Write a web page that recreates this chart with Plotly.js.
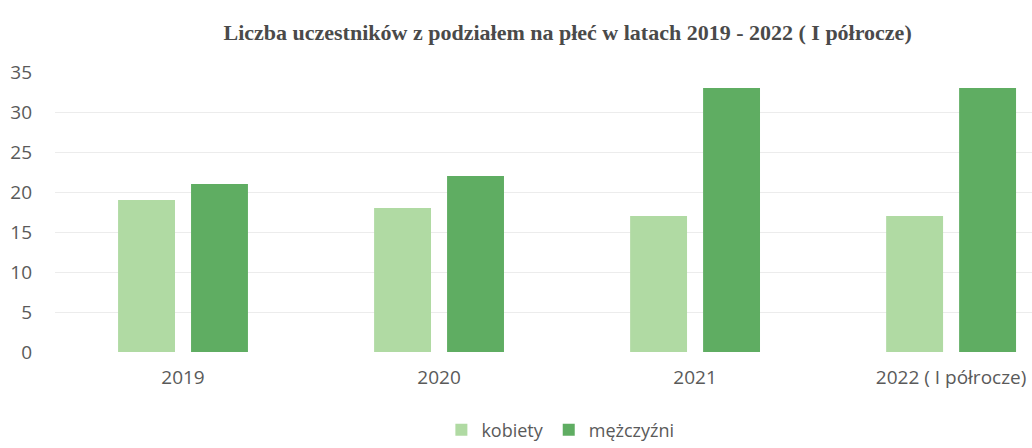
<!DOCTYPE html>
<html>
<head>
<meta charset="utf-8">
<script src="https://cdn.plot.ly/plotly-3.0.1.min.js"></script>
<style>html,body{margin:0;padding:0;background:#fff;}#chart{width:1032px;height:448px;}</style>
</head>
<body>
<div id="chart"></div>
<script>
const categories = ["2019", "2020", "2021", "2022 ( I półrocze)"];
const kobiety = [19, 18, 17, 17];
const mezczyzni = [21, 22, 33, 33];
const seriesNames = ["kobiety", "mężczyźni"];
const yTicks = [0, 5, 10, 15, 20, 25, 30, 35];
const titleText = "Liczba uczestników z podziałem na płeć w latach 2019 - 2022 ( I półrocze)";

const traces = [
  {type: "bar", name: seriesNames[0], x: categories, y: kobiety,
   marker: {color: "#b0daa3"}, hoverinfo: "x+y+name"},
  {type: "bar", name: seriesNames[1], x: categories, y: mezczyzni,
   marker: {color: "#5fad62"}, hoverinfo: "x+y+name"}
];

const labelFont = {family: "Open Sans, Liberation Sans, sans-serif", size: 19, color: "#5a5a5a"};

const layout = {
  width: 1032, height: 448,
  margin: {l: 55, r: 0, t: 72, b: 96},
  paper_bgcolor: "#fff", plot_bgcolor: "#fff",
  barmode: "group", bargap: 0.43, bargroupgap: 0.22,
  title: {text: titleText, x: 0.55, xanchor: "center", y: 0.928, yanchor: "middle",
          font: {family: "Liberation Serif, DejaVu Serif, serif", size: 22, color: "#4a4a4a", weight: "bold"}},
  xaxis: {type: "category", range: [-0.5, 3.316], showgrid: false, zeroline: false, showline: false,
          ticks: "", tickfont: labelFont, ticklabelstandoff: 12},
  yaxis: {range: [0, 35], tickvals: yTicks, showgrid: true, gridcolor: "#ececec", gridwidth: 1,
          zeroline: false, showline: false, ticks: "",
          tickfont: labelFont, ticklabelstandoff: 22},
  showlegend: true,
  legend: {orientation: "h", xref: "container", yref: "container",
           x: 0.543, xanchor: "center", y: 0.04, yanchor: "middle",
           font: {family: "Open Sans, Liberation Sans, sans-serif", size: 18, color: "#5a5a5a"},
           itemwidth: 30, traceorder: "normal"}
};

Plotly.newPlot("chart", traces, layout, {displayModeBar: false, staticPlot: true});
</script>
</body>
</html>
